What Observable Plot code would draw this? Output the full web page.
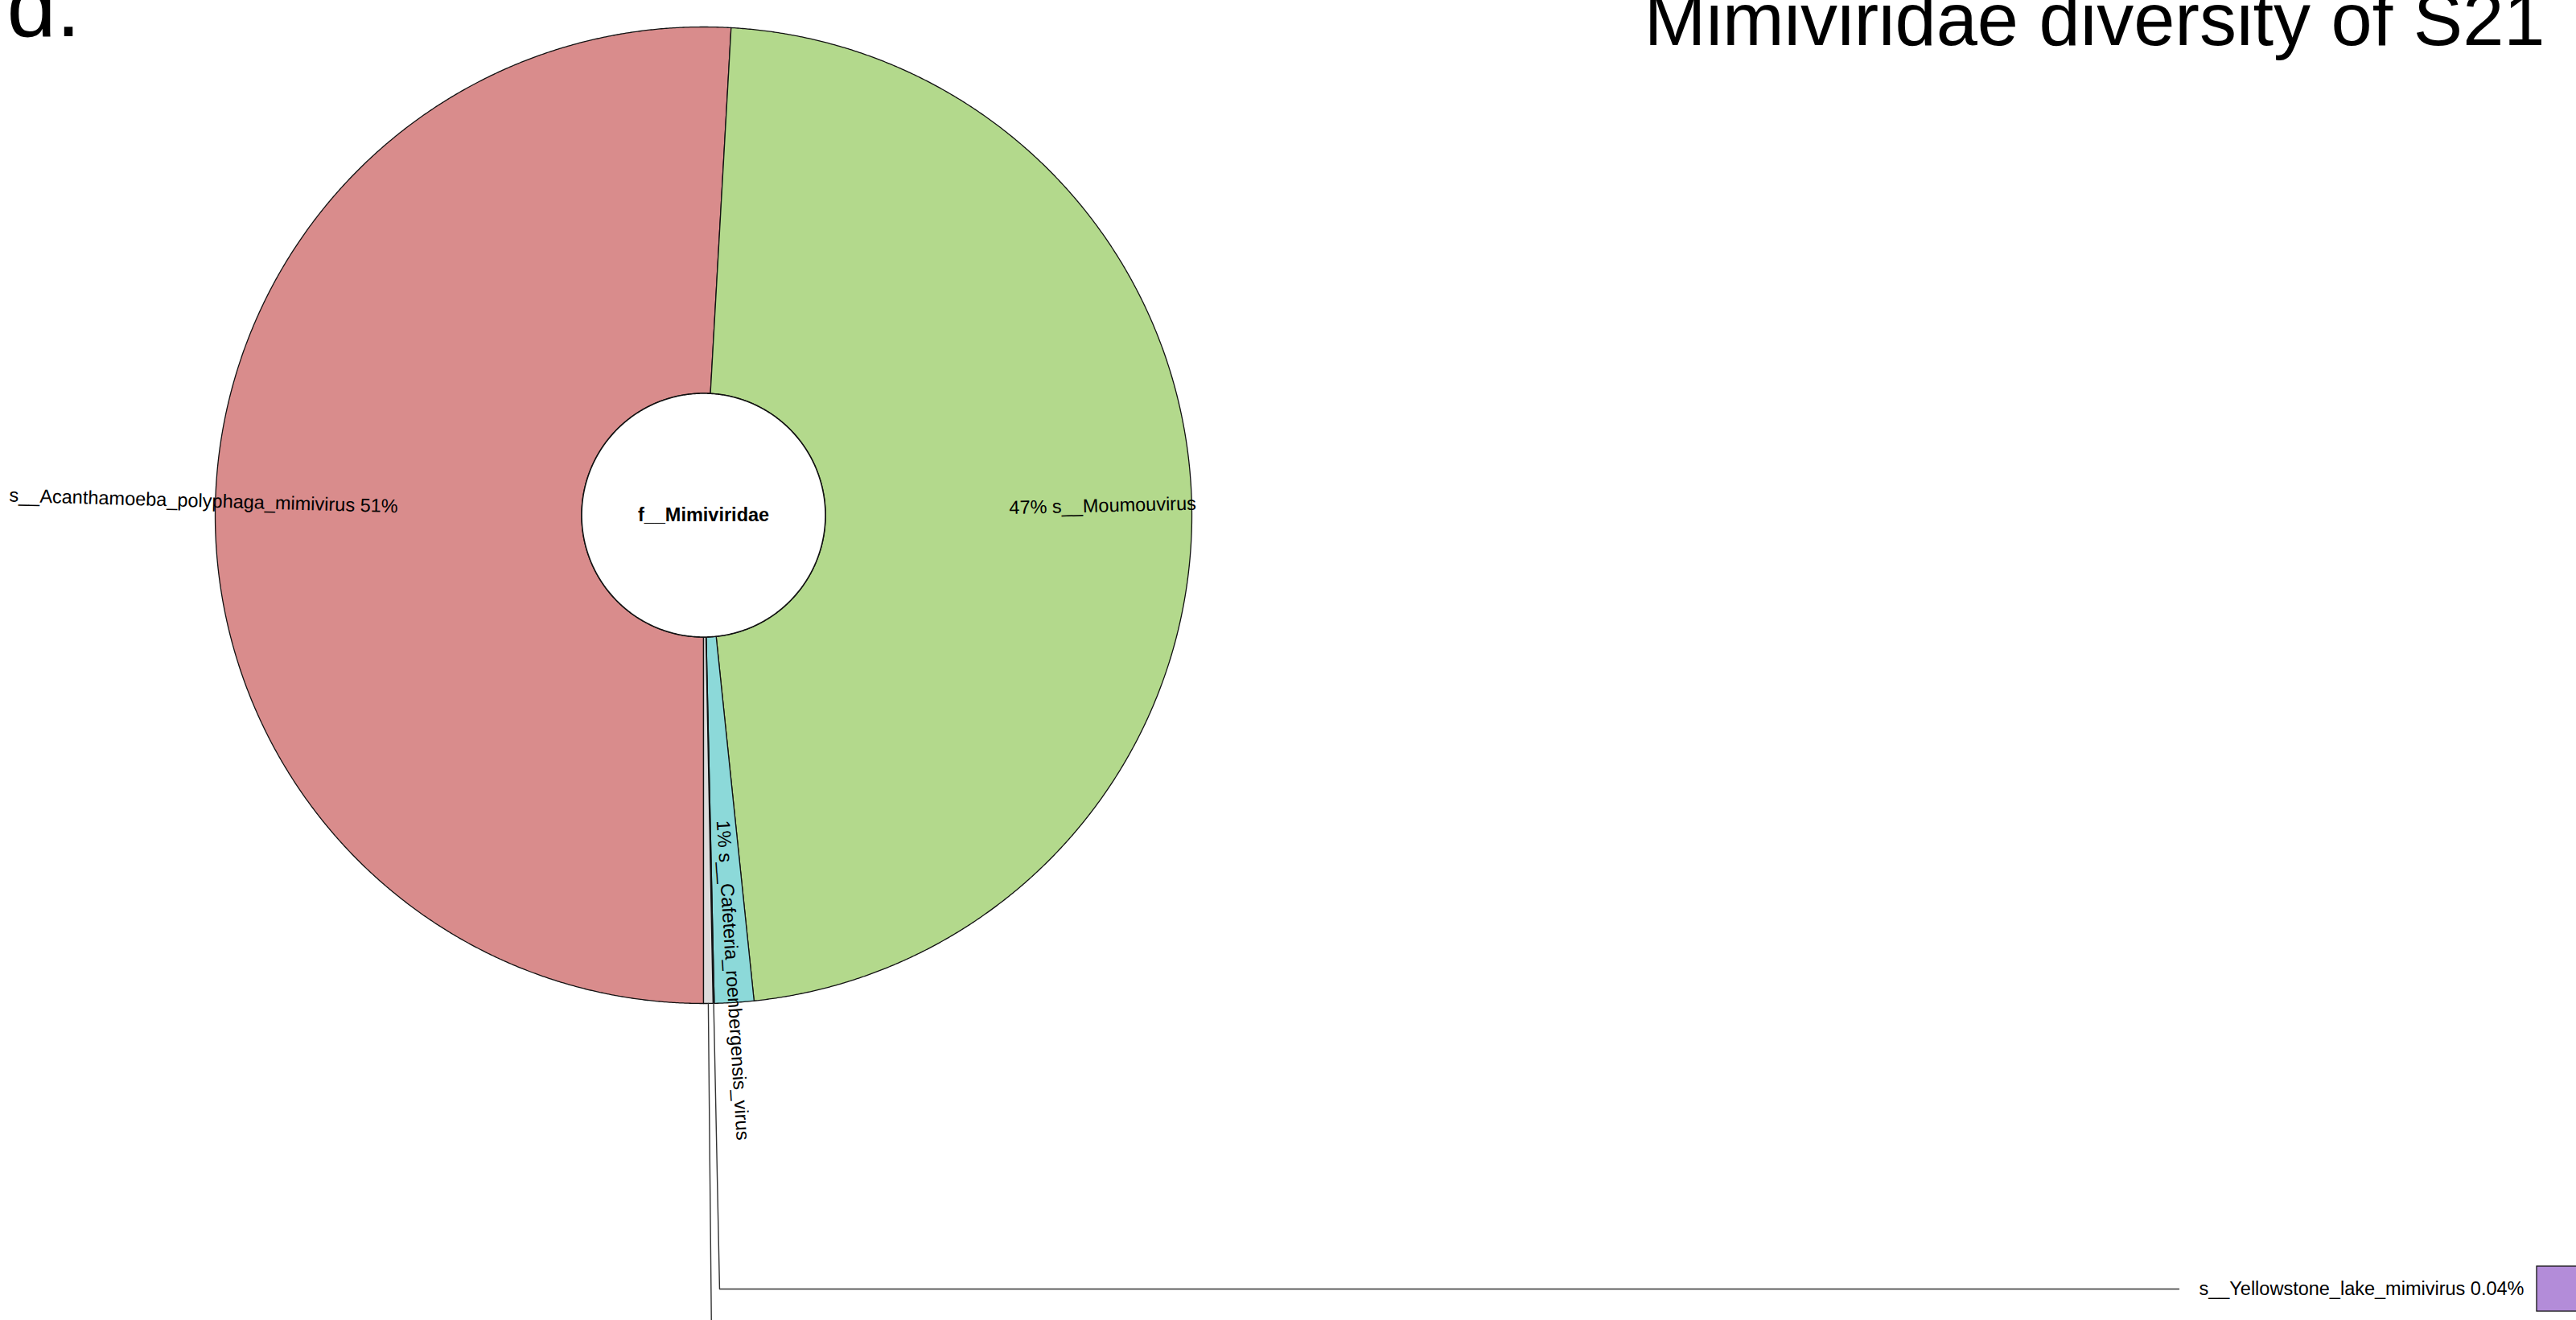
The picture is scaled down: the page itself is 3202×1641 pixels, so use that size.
<!DOCTYPE html>
<html>
<head>
<meta charset="utf-8">
<script src="https://cdn.jsdelivr.net/npm/d3@7"></script>
<script src="https://cdn.jsdelivr.net/npm/@observablehq/plot@0.6"></script>
<style>
  html, body { margin: 0; padding: 0; background: #fff; overflow: hidden; }
  #chart svg { display: block; }
</style>
</head>
<body>
<div id="chart"></div>
<script>
// ---------------- data ----------------
const species = [
  "s__Acanthamoeba_polyphaga_mimivirus",
  "s__Moumouvirus",
  "s__Cafeteria_roenbergensis_virus",
  "s__Yellowstone_lake_mimivirus",
  "unassigned"
];
const shares = [50.9, 47.45, 1.3, 0.04, 0.31];          // percent of f__Mimiviridae
const percentLabels = ["51%", "47%", "1%", "0.04%", ""];
const sliceColors = ["#d98c8c", "#b3d98c", "#8cd9d9", "#b38cd9", "#dcdcdc"];
const labelledInside = ["s__Acanthamoeba_polyphaga_mimivirus", "s__Moumouvirus", "s__Cafeteria_roenbergensis_virus"];
const keyed = ["s__Yellowstone_lake_mimivirus"];
const centerLabel = "f__Mimiviridae";
const title = "Mimiviridae diversity of S21";
const panelLabel = "d.";

// ---------------- layout ----------------
const W = 3202, H = 1641;
const CX = 874, CY = 640, R = 607;        // pixel centre and outer radius
const innerR = 151.5 / R;                 // inner radius in units of R
const labelR = 380 / R;                   // where inside labels start
const startAngle = 180;                   // degrees clockwise from 12 o'clock
const keyY = (CY - 1602) / R;             // key row (units)
const keyLineEndX = (2708 - CX) / R;
const keyTextEndX = (3137 - CX) / R;
const keyBoxX1 = (3153 - CX) / R, keyBox = 56 / R;
const fs = 23.5;

// ---------------- geometry ----------------
const total = d3.sum(shares);
let acc = startAngle;
const slices = species.map((name, i) => {
  const span = shares[i] / total * 360;
  const s = {name, i, a0: acc, a1: acc + span, pct: percentLabels[i]};
  acc += span;
  return s;
});
const pt = (r, deg) => { const t = deg * Math.PI / 180; return [r * Math.sin(t), r * Math.cos(t)]; };

const slicePts = [];
for (const s of slices) {
  const n = Math.max(2, Math.ceil((s.a1 - s.a0) / 0.2));
  for (let k = 0; k <= n; k++) { const [x, y] = pt(1, s.a0 + (s.a1 - s.a0) * k / n); slicePts.push({name: s.name, x, y}); }
  for (let k = n; k >= 0; k--) { const [x, y] = pt(innerR, s.a0 + (s.a1 - s.a0) * k / n); slicePts.push({name: s.name, x, y}); }
}
const discPts = d3.range(0, 360, 0.5).map(a => { const [x, y] = pt(innerR, a); return {x, y}; });

const insideLabels = slices.filter(s => labelledInside.includes(s.name)).map(s => {
  const m = (((s.a0 + s.a1) / 2) % 360 + 360) % 360;
  const [x, y] = pt(labelR, m);
  const left = m > 180;
  return {x, y, left, rotate: left ? m - 270 : m - 90,
          text: left ? `${s.name} ${s.pct}` : `${s.pct} ${s.name}`};
});

// leader lines
const leaderPts = [];
const keys = [];
for (const s of slices) {
  const m = (s.a0 + s.a1) / 2;
  const [x0, y0] = pt(1, m);
  if (keyed.includes(s.name)) {
    const t = (keyY - y0) / Math.cos(m * Math.PI / 180);
    const x1 = x0 + t * Math.sin(m * Math.PI / 180);
    leaderPts.push({name: s.name, x: x0, y: y0}, {name: s.name, x: x1, y: keyY}, {name: s.name, x: keyLineEndX, y: keyY});
    keys.push({name: s.name, text: `${s.name} ${s.pct}`, x: keyTextEndX, y: keyY,
               x1: keyBoxX1, x2: keyBoxX1 + keyBox, y1: keyY - keyBox / 2, y2: keyY + keyBox / 2});
  } else if (s.name === "unassigned") {
    const [x1, y1] = pt(1.8, m);
    leaderPts.push({name: s.name, x: x0, y: y0}, {name: s.name, x: x1, y: y1});
  }
}

const chart = Plot.plot({
  width: W, height: H, margin: 0,
  style: {fontFamily: "'Liberation Sans', Arial, sans-serif", background: "#fff", color: "#000"},
  x: {domain: [-CX / R, (W - CX) / R], axis: null},
  y: {domain: [-(H - CY) / R, CY / R], axis: null},
  color: {domain: species, range: sliceColors},
  marks: [
    Plot.line(slicePts, {x: "x", y: "y", z: "name", fill: "name", stroke: "#111", strokeWidth: 1.3, curve: "linear-closed"}),
    Plot.line(discPts, {x: "x", y: "y", fill: "white", stroke: "#111", strokeWidth: 1.6, curve: "linear-closed"}),
    Plot.line(leaderPts, {x: "x", y: "y", z: "name", stroke: "#333", strokeWidth: 1.4}),
    Plot.text([centerLabel], {x: () => 0, y: () => 0, text: d => d, fontSize: fs, fontWeight: "bold", fill: "#000"}),
    Plot.text(insideLabels.filter(d => !d.left), {x: "x", y: "y", text: "text", rotate: "rotate", textAnchor: "start", fontSize: fs, fill: "#000"}),
    Plot.text(insideLabels.filter(d => d.left), {x: "x", y: "y", text: "text", rotate: "rotate", textAnchor: "end", fontSize: fs, fill: "#000"}),
    Plot.text(keys, {x: "x", y: "y", text: "text", textAnchor: "end", fontSize: fs, fill: "#000"}),
    Plot.rect(keys, {x1: "x1", x2: "x2", y1: "y1", y2: "y2", fill: "name", stroke: "#111", strokeWidth: 1.3}),
    Plot.text([title], {frameAnchor: "top-right", lineAnchor: "middle", text: d => d, textAnchor: "end", dx: -39, dy: 55 - 0.32 * 92, fontSize: 92, fill: "#000"}),
    Plot.text([panelLabel], {frameAnchor: "top-left", lineAnchor: "middle", text: d => d, textAnchor: "start", dx: 8, dy: 44 - 0.32 * 110, fontSize: 110, fill: "#000"})
  ]
});
document.getElementById("chart").appendChild(chart);
</script>
</body>
</html>
